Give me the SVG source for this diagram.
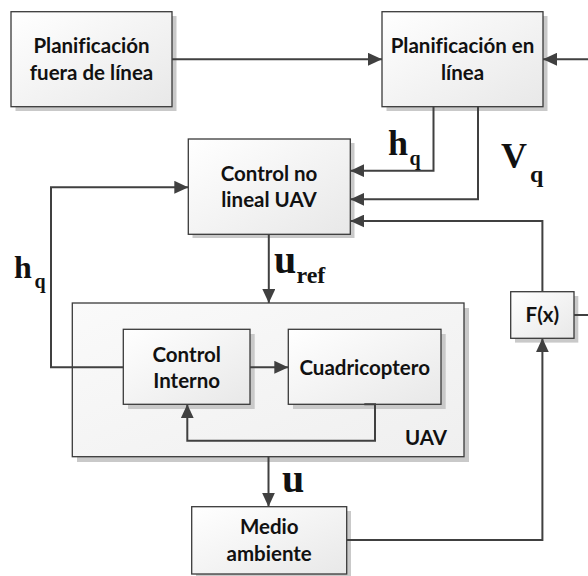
<svg xmlns="http://www.w3.org/2000/svg" width="588" height="576" viewBox="0 0 588 576">
<style>
.box{fill:url(#g);stroke:#3a3a3a;stroke-width:1.3}
.outer{fill:url(#g2);stroke:#3a3a3a;stroke-width:1.3}
.sh{fill:#c9c9c9}
.t{font-family:Lato,"Liberation Sans",sans-serif;font-weight:bold;font-size:20.5px;fill:#111;text-anchor:middle;font-variant-ligatures:none}
.m{font-family:"Liberation Serif","Times New Roman",serif;font-weight:bold;fill:#111}
.c{fill:none;stroke:#404040;stroke-width:2}
.a{marker-end:url(#ah)}
</style>
<defs>
<linearGradient id="g" x1="0" y1="0" x2="1" y2="1">
<stop offset="0" stop-color="#ffffff"/>
<stop offset="1" stop-color="#e8e8e8"/>
</linearGradient>
<linearGradient id="g2" x1="0" y1="0" x2="1" y2="1">
<stop offset="0" stop-color="#fafafa"/>
<stop offset="1" stop-color="#efefef"/>
</linearGradient>
<marker id="ah" markerUnits="userSpaceOnUse" markerWidth="14" markerHeight="13" refX="14" refY="6.5" orient="auto">
<path d="M0,0 L14,6.5 L0,13 z" fill="#404040"/>
</marker>
</defs>

<g id="offline">
<rect class="sh" x="15.5" y="16" width="161" height="95"/>
<rect class="box" x="11" y="11.7" width="161" height="95"/>
<text class="t" x="91.5" y="52.7">Planificación</text>
<text class="t" x="91.5" y="80">fuera de línea</text>
</g>

<g id="online">
<rect class="sh" x="386.5" y="16" width="161" height="95"/>
<rect class="box" x="382" y="11.7" width="161" height="95"/>
<text class="t" x="462.5" y="52.7">Planificación en</text>
<text class="t" x="462.5" y="80">línea</text>
</g>

<g id="control">
<rect class="sh" x="192.5" y="143" width="162" height="95"/>
<rect class="box" x="188.3" y="139" width="162" height="95.3"/>
<text class="t" x="269" y="180.5">Control no</text>
<text class="t" x="269" y="206.5">lineal UAV</text>
</g>

<g id="uav">
<rect class="sh" x="77" y="308" width="392" height="154"/>
<rect class="outer" x="72.3" y="303" width="391.7" height="153.7"/>
<text class="t" x="426" y="445">UAV</text>
</g>

<g id="control-interno">
<rect class="sh" x="128" y="334" width="126.7" height="75"/>
<rect class="box" x="123.3" y="329.3" width="126.7" height="75"/>
<text class="t" x="186.7" y="361.7">Control</text>
<text class="t" x="186.7" y="388.3">Interno</text>
</g>

<g id="cuadricoptero">
<rect class="sh" x="293" y="334" width="152.7" height="75"/>
<rect class="box" x="288.3" y="329.3" width="152.7" height="75"/>
<text class="t" x="364.7" y="375">Cuadricoptero</text>
</g>

<g id="medio">
<rect class="sh" x="196" y="511" width="155" height="68"/>
<rect class="box" x="191.7" y="506.7" width="155" height="67.3"/>
<text class="t" x="269.2" y="534.3">Medio</text>
<text class="t" x="269.2" y="561">ambiente</text>
</g>

<g id="fx">
<rect class="sh" x="515" y="296" width="63.3" height="46.6"/>
<rect class="box" x="510.7" y="291.7" width="63.3" height="46.6"/>
<text class="t" x="542.4" y="322.3">F(x)</text>
</g>

<g id="connectors">
<path class="c a" d="M172,59.3 H382"/>
<path class="c a" d="M588,59.3 H543"/>
<path class="c a" d="M433.5,106.7 V170.7 H350.3"/>
<path class="c a" d="M478,106.7 V199.3 H350.3"/>
<path class="c a" d="M542.4,291.7 V221 H350.3"/>
<path class="c" d="M574,315 H588"/>
<path class="c a" d="M123.3,367.3 H51 V187.3 H188.3"/>
<path class="c a" d="M268.8,234.3 V303"/>
<path class="c a" d="M250,367.3 H288.3"/>
<path class="c a" d="M364.3,404.3 H375 V440.7 H187.3 V404.3"/>
<path class="c a" d="M268.5,456.7 V506.7"/>
<path class="c a" d="M346.7,540 H542.4 V338.3"/>
</g>

<g id="labels">
<text class="m" x="388" y="155" font-size="36">h</text>
<text class="m" x="409.5" y="165" font-size="20">q</text>
<text class="m" x="501" y="168" font-size="36">V</text>
<text class="m" x="530" y="182" font-size="24">q</text>
<text class="m" x="14" y="278" font-size="32">h</text>
<text class="m" x="34.5" y="287.5" font-size="20">q</text>
<text class="m" x="274" y="273.3" font-size="40">u</text>
<text class="m" x="296.5" y="282.7" font-size="24">ref</text>
<text class="m" x="282" y="492" font-size="40">u</text>
</g>
</svg>
